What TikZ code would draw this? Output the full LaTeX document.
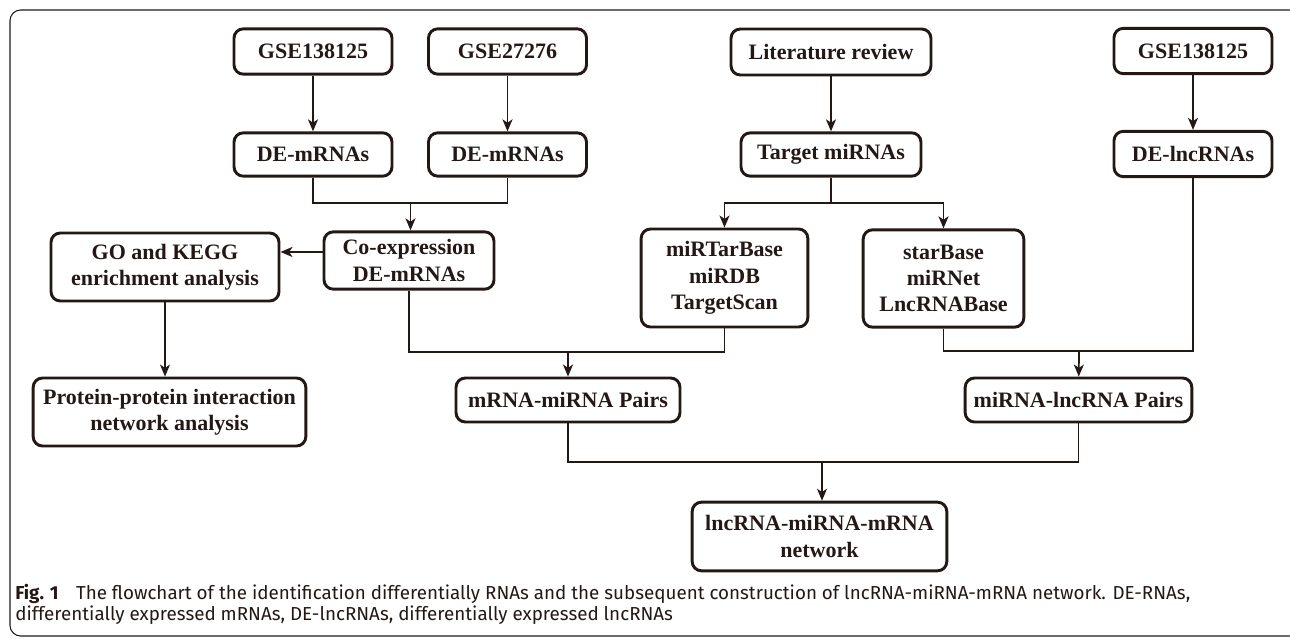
\documentclass[tikz,border=0pt]{standalone}
\usepackage{fontspec}
\setmainfont{Liberation Serif}
\newfontfamily\capfont{Fira Sans}
\usetikzlibrary{arrows.meta}
\definecolor{ink}{RGB}{35,24,21}
\tikzset{
  box/.style={draw=ink, line width=2.2pt, rounded corners=7pt, align=center, inner sep=0pt, text=ink, font=\fontsize{16.5}{19.8}\selectfont\bfseries},
  link/.style={draw=ink, line width=1.3pt},
  thinlink/.style={draw=ink, line width=0.8pt},
  tip/.style={-{Stealth[length=9pt,width=7.5pt,inset=2.5pt]}},
}

\begin{document}
\begin{tikzpicture}[x=0.75pt,y=-0.75pt]
\useasboundingbox (0,0) rectangle (1290,639);
\draw[ink, line width=0.8pt, rounded corners=8pt] (10,10) rectangle (1300,636);

\node[box, minimum width=118.5pt, minimum height=34pt] (gseA) at (313,51.5) {GSE138125};
\node[box, minimum width=118.5pt, minimum height=34pt] (gseB) at (507.5,51.5) {GSE27276};
\node[box, minimum width=150pt, minimum height=34.5pt] (lit) at (831,52) {Literature review};
\node[box, minimum width=118.5pt, minimum height=34pt] (gseC) at (1193,51) {GSE138125};
%Sources

\node[box, minimum width=118.5pt, minimum height=32.5pt] (demA) at (313,154.5) {DE-mRNAs};
\node[box, minimum width=118.5pt, minimum height=32.5pt] (demB) at (507.5,154.5) {DE-mRNAs};
\node[box, minimum width=135pt, minimum height=32.5pt] (tmir) at (831,154.5) {Target miRNAs};
\node[box, minimum width=118.5pt, minimum height=34pt] (delnc) at (1193,154) {DE-lncRNAs};
%Second row

\node[box, minimum width=127.5pt, minimum height=43pt] (coexp) at (409,260.5) {Co-expression\\DE-mRNAs};
\node[box, minimum width=171pt, minimum height=51pt] (go) at (165,267) {GO and KEGG\\enrichment analysis};
\node[box, minimum width=125pt, minimum height=73.5pt] (mirt) at (724.5,278) {miRTarBase\\miRDB\\TargetScan};
\node[box, minimum width=120.5pt, minimum height=73pt] (star) at (943.5,278.5) {starBase\\miRNet\\LncRNABase};
%Third row

\node[box, minimum width=204.5pt, minimum height=51pt] (ppi) at (169.5,412) {Protein-protein interaction\\network analysis};
\node[box, minimum width=168pt, minimum height=33pt] (mmp) at (568,400) {mRNA-miRNA Pairs};
\node[box, minimum width=170pt, minimum height=33pt] (mlp) at (1078.5,400) {miRNA-lncRNA Pairs};
\node[box, minimum width=191pt, minimum height=51.5pt] (net) at (819.5,536.5) {lncRNA-miRNA-mRNA\\network};
%Results

\draw[link, tip] (gseA) -- (demA);
\draw[link, tip] (gseB) -- (demB);
\draw[link, tip] (lit) -- (tmir);
\draw[link, tip] (gseC) -- (delnc);

\coordinate (jA) at (410.5,203);
\draw[link] (demA.south) |- (jA) -| (demB.south);
\draw[link, tip] (jA) -- (jA |- coexp.north);

\coordinate (jB) at (831,203);
\draw[link] (tmir) -- (jB);
\draw[link, tip] (jB) -| (mirt.north);
\draw[link, tip] (jB) -| (star.north);

\coordinate (cw) at ([yshift=6.4pt]coexp.west);
\draw[link, tip] (cw) -- (cw -| go.east);
\draw[thinlink, tip] (go) -- (go |- ppi.north);

\coordinate (jC) at (568,352);
\draw[link] (coexp.south) |- (jC) -| (mirt.south);
\draw[link, tip] (jC) -- (mmp);

\coordinate (jD) at (1079,351);
\draw[link] (star.south) |- (jD) -| (delnc.south);
\draw[link, tip] (jD) -- (mlp);

\coordinate (jE) at (822,462);
\draw[thinlink] (mmp.south) |- (jE) -| (mlp.south);
\draw[thinlink, tip] (jE) -- (jE |- net.north);
%Connectors

\node[anchor=base west, inner sep=0pt, text=ink, font=\capfont\fontsize{14.1}{17}\selectfont] (capA) at (15,599) {{\bfseries Fig. 1}\hspace{13pt}The flowchart of the identification differentially RNAs and the subsequent construction of lncRNA-miRNA-mRNA network. DE-RNAs,};
\node[anchor=base west, inner sep=0pt, text=ink, font=\capfont\fontsize{14.1}{17}\selectfont] (capB) at (15,620) {differentially expressed mRNAs, DE-lncRNAs, differentially expressed lncRNAs};
%Caption
\end{tikzpicture}
\end{document}
